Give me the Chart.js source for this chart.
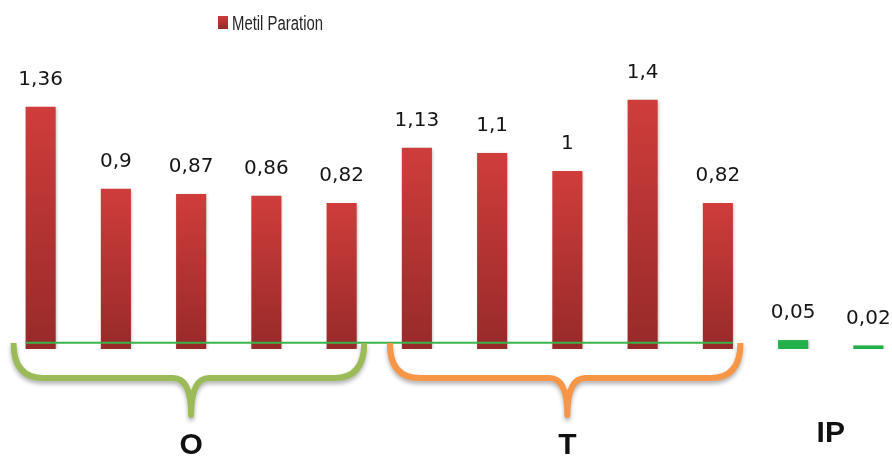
<!DOCTYPE html>
<html>
<head>
<meta charset="utf-8">
<style>
  html, body { margin: 0; padding: 0; background: #ffffff; overflow: hidden; }
  #wrap { position: relative; width: 906px; height: 458px; }
</style>
<script src="https://cdn.jsdelivr.net/npm/chart.js@4/dist/chart.umd.min.js"></script>
</head>
<body>
<div id="wrap"><canvas id="c" width="906" height="458"></canvas></div>
<script>
// Series
const seriesName = 'Metil Paration';
const categories = ['O1', 'O2', 'O3', 'O4', 'O5', 'T1', 'T2', 'T3', 'T4', 'T5', 'IP1', 'IP2'];
const values = [1.36, 0.9, 0.87, 0.86, 0.82, 1.13, 1.1, 1, 1.4, 0.82, 0.05, 0.02];

// Sample groups (index ranges into categories)
const groupNames = ['O', 'T', 'IP'];
const groupStart = [0, 5, 10];
const groupEnd = [4, 9, 11];
const groupBraceColors = ['#9bbb59', '#f79646', null];

// Horizontal reference level drawn across the O and T groups
const referenceLevel = 0.035;
const referenceFrom = 0;
const referenceTo = 9;

function groupOf(i) {
  for (let g = 0; g < groupNames.length; g++) {
    if (i >= groupStart[g] && i <= groupEnd[g]) return g;
  }
  return -1;
}

function redGradient(c2d, top, bottom) {
  const g = c2d.createLinearGradient(0, top, 0, bottom);
  g.addColorStop(0, '#cf3d3b');
  g.addColorStop(1, '#972a29');
  return g;
}

function fmt(v) {
  return String(v).replace('.', ',');
}

// Soft drop shadow behind the bars
const barShadow = {
  id: 'barShadow',
  beforeDatasetsDraw(chart) {
    const c = chart.ctx;
    c.save();
    c.shadowColor = 'rgba(0,0,0,0.28)';
    c.shadowBlur = 3;
    c.shadowOffsetX = 1;
    c.shadowOffsetY = 1;
  },
  afterDatasetsDraw(chart) {
    chart.ctx.restore();
  }
};

// Reference line, value labels, braces and group names
const annotations = {
  id: 'annotations',
  afterDatasetsDraw(chart) {
    const c = chart.ctx;
    const bars = chart.getDatasetMeta(0).data;
    const y = chart.scales.y;

    // reference line
    const lx0 = bars[referenceFrom].x - bars[referenceFrom].width / 2;
    const lx1 = bars[referenceTo].x + bars[referenceTo].width / 2;
    const ly = y.getPixelForValue(referenceLevel);
    c.save();
    c.strokeStyle = '#3bb54a';
    c.lineWidth = 2;
    c.beginPath();
    c.moveTo(lx0, ly);
    c.lineTo(lx1, ly);
    c.stroke();
    c.restore();

    // value labels
    c.save();
    c.font = '20px "DejaVu Sans"';
    c.fillStyle = '#161616';
    c.textAlign = 'center';
    c.textBaseline = 'middle';
    bars.forEach((b, i) => {
      c.fillText(fmt(values[i]), b.x, b.y - 27);
    });
    c.restore();

    // braces and group names
    const catW = bars.length > 1 ? bars[1].x - bars[0].x : 75;
    groupNames.forEach((name, g) => {
      const xa = bars[groupStart[g]].x;
      const xb = bars[groupEnd[g]].x;
      const xm = (xa + xb) / 2;
      const color = groupBraceColors[g];
      if (color) {
        const x0 = xa - catW * 0.36;
        const x1 = xb + catW * 0.30;
        const yTop = 343, yMid = 378, yTip = 415, r = 30, r2 = 18;
        c.save();
        c.shadowColor = 'rgba(0,0,0,0.3)';
        c.shadowBlur = 4;
        c.shadowOffsetY = 3;
        c.strokeStyle = color;
        c.lineWidth = 6;
        c.lineCap = 'butt';
        c.lineJoin = 'round';
        c.beginPath();
        c.moveTo(x0, yTop);
        c.quadraticCurveTo(x0, yMid, x0 + r, yMid);
        c.lineTo(xm - r2, yMid);
        c.quadraticCurveTo(xm, yMid, xm, yTip);
        c.quadraticCurveTo(xm, yMid, xm + r2, yMid);
        c.lineTo(x1 - r, yMid);
        c.quadraticCurveTo(x1, yMid, x1, yTop);
        c.stroke();
        c.restore();
      }
      c.save();
      c.font = 'bold 30px "Liberation Sans", Arial, sans-serif';
      c.fillStyle = '#111111';
      c.textAlign = 'center';
      c.textBaseline = 'middle';
      c.fillText(name, xm, color ? 446 : 434);
      c.restore();
    });
  }
};

// Legend entry (condensed label next to a gradient swatch)
const legendEntry = {
  id: 'legendEntry',
  afterDraw(chart) {
    const c = chart.ctx;
    const label = chart.data.datasets[0].label;
    c.save();
    c.fillStyle = redGradient(c, 16, 29);
    c.fillRect(218, 16, 10, 13);
    c.font = '20px "Liberation Sans", sans-serif';
    const w = c.measureText(label).width;
    const sx = 91 / w;
    c.translate(232, 24);
    c.scale(sx, 1);
    c.fillStyle = '#262626';
    c.textAlign = 'left';
    c.textBaseline = 'middle';
    c.fillText(label, 0, 0);
    c.restore();
  }
};

new Chart(document.getElementById('c'), {
  type: 'bar',
  data: {
    labels: categories,
    datasets: [{
      label: seriesName,
      data: values,
      barPercentage: 0.4,
      categoryPercentage: 1,
      borderWidth: 0,
      backgroundColor: (ctx) => {
        const i = ctx.dataIndex;
        if (groupOf(i) === 2) return '#22b04b';
        const chart = ctx.chart;
        const ys = chart.scales.y;
        if (!chart.chartArea || !ys || i === undefined) return '#c0383a';
        return redGradient(chart.ctx, ys.getPixelForValue(values[i]), ys.getPixelForValue(0));
      }
    }]
  },
  options: {
    responsive: false,
    devicePixelRatio: 1,
    animation: false,
    layout: { padding: { left: 3, right: 0, top: 64, bottom: 109 } },
    plugins: {
      legend: { display: false },
      tooltip: { enabled: false }
    },
    scales: {
      x: { display: false },
      y: { display: false, min: 0, max: 1.6 }
    }
  },
  plugins: [barShadow, annotations, legendEntry]
});
</script>
</body>
</html>
